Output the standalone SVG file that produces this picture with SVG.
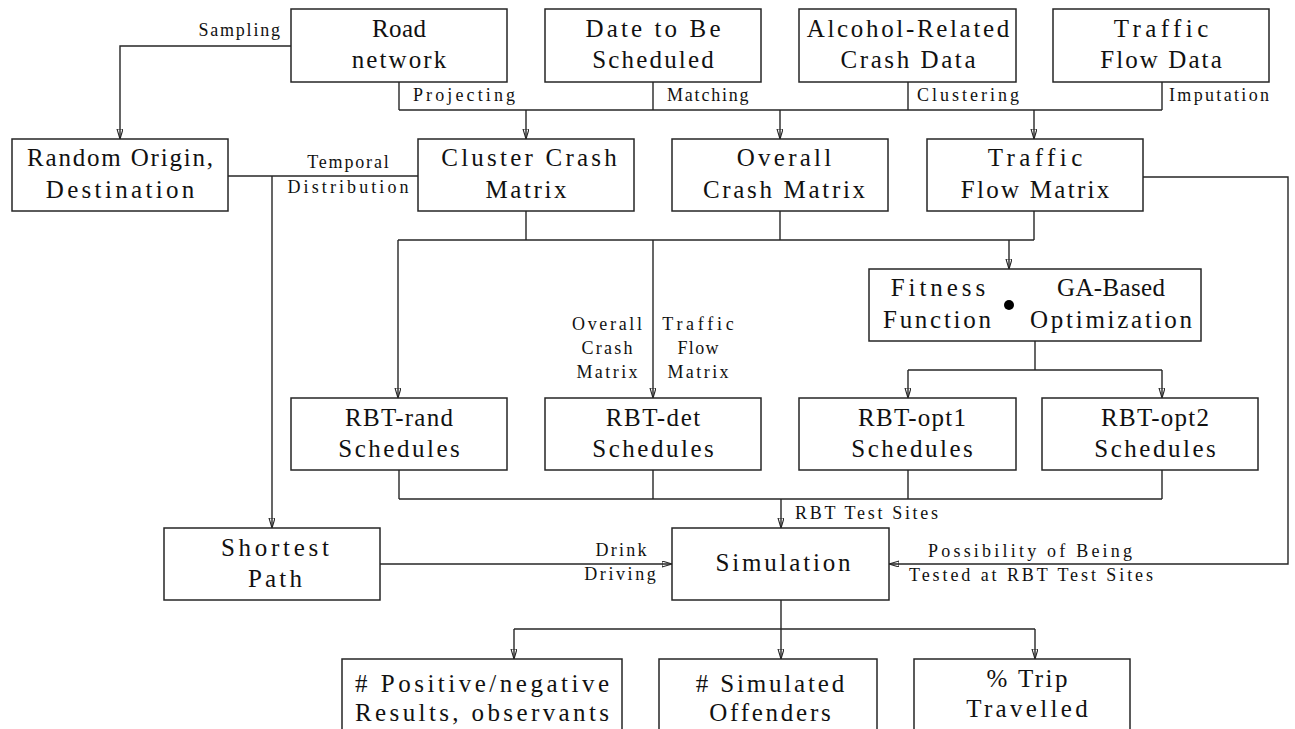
<svg xmlns="http://www.w3.org/2000/svg" width="1295" height="729" viewBox="0 0 1295 729">
  <style>
    .box { fill: #ffffff; stroke: #262626; stroke-width: 1.5; }
    .t { font-family: "Liberation Serif", "DejaVu Serif", serif; font-size: 25px; fill: #111; text-anchor: middle; }
    .s { font-family: "Liberation Serif", "DejaVu Serif", serif; font-size: 18px; fill: #111; }
    .m { text-anchor: middle; }
    .e { text-anchor: end; }
    .c { fill: none; stroke: #262626; stroke-width: 1.4; }
    .a { fill: none; stroke: #262626; stroke-width: 1.4; marker-end: url(#arr); }
  </style>
  <defs>
    <marker id="arr" markerUnits="userSpaceOnUse" markerWidth="12" markerHeight="8" refX="10" refY="3" orient="auto">
      <path d="M0,0 L10,3 L0,6 Z" fill="none" stroke="#262626" stroke-width="1.1"/>
    </marker>
  </defs>
  <rect width="1295" height="729" fill="#ffffff"/>

  <g id="connectors">
    <!-- Sampling -->
    <polyline class="a" points="291,46 120,46 120,139"/>
    <!-- top bus -->
    <line class="c" x1="399" y1="82" x2="399" y2="110"/>
    <line class="c" x1="653" y1="82" x2="653" y2="110"/>
    <line class="c" x1="908" y1="82" x2="908" y2="110"/>
    <line class="c" x1="1162" y1="82" x2="1162" y2="110"/>
    <line class="c" x1="399" y1="110" x2="1162" y2="110"/>
    <line class="a" x1="526" y1="110" x2="526" y2="139"/>
    <line class="a" x1="780" y1="110" x2="780" y2="139"/>
    <line class="a" x1="1034" y1="110" x2="1034" y2="139"/>
    <!-- temporal -->
    <line class="c" x1="228" y1="176" x2="418" y2="176"/>
    <line class="a" x1="272" y1="176" x2="272" y2="528"/>
    <!-- matrices bus -->
    <line class="c" x1="526" y1="211" x2="526" y2="240"/>
    <line class="c" x1="780" y1="211" x2="780" y2="240"/>
    <line class="c" x1="1034" y1="211" x2="1034" y2="240"/>
    <line class="c" x1="398" y1="240" x2="1034" y2="240"/>
    <line class="a" x1="398" y1="240" x2="398" y2="398"/>
    <line class="a" x1="653" y1="240" x2="653" y2="398"/>
    <line class="a" x1="1009" y1="240" x2="1009" y2="269"/>
    <!-- GA bus -->
    <line class="c" x1="1035" y1="341" x2="1035" y2="370"/>
    <line class="c" x1="908" y1="370" x2="1162" y2="370"/>
    <line class="a" x1="908" y1="370" x2="908" y2="398"/>
    <line class="a" x1="1162" y1="370" x2="1162" y2="398"/>
    <!-- schedules bus -->
    <line class="c" x1="399" y1="470" x2="399" y2="499"/>
    <line class="c" x1="653" y1="470" x2="653" y2="499"/>
    <line class="c" x1="908" y1="470" x2="908" y2="499"/>
    <line class="c" x1="1162" y1="470" x2="1162" y2="499"/>
    <line class="c" x1="399" y1="499" x2="1162" y2="499"/>
    <line class="a" x1="781" y1="499" x2="781" y2="528"/>
    <!-- traffic flow to simulation -->
    <polyline class="a" points="1143,177 1288,177 1288,564 889,564"/>
    <!-- shortest path to simulation -->
    <line class="a" x1="380" y1="564" x2="672" y2="564"/>
    <!-- outputs -->
    <line class="c" x1="781" y1="600" x2="781" y2="629"/>
    <line class="c" x1="514" y1="629" x2="1035" y2="629"/>
    <line class="a" x1="514" y1="629" x2="514" y2="659"/>
    <line class="a" x1="781" y1="629" x2="781" y2="659"/>
    <line class="a" x1="1035" y1="629" x2="1035" y2="659"/>
    <!-- labels -->
    <text class="s e" x="280" y="36" textLength="81.6" lengthAdjust="spacing">Sampling</text>
    <text class="s" x="413" y="101" textLength="102" lengthAdjust="spacing">Projecting</text>
    <text class="s" x="667" y="101" textLength="81.6" lengthAdjust="spacing">Matching</text>
    <text class="s" x="917" y="101" textLength="102" lengthAdjust="spacing">Clustering</text>
    <text class="s" x="1169" y="101" textLength="100" lengthAdjust="spacing">Imputation</text>
    <text class="s m" x="348" y="168" textLength="81.6" lengthAdjust="spacing">Temporal</text>
    <text class="s m" x="348" y="193" textLength="121" lengthAdjust="spacing">Distribution</text>
    <text class="s m" x="607" y="330" textLength="70" lengthAdjust="spacing">Overall</text>
    <text class="s m" x="607" y="354" textLength="51" lengthAdjust="spacing">Crash</text>
    <text class="s m" x="607" y="378" textLength="61.2" lengthAdjust="spacing">Matrix</text>
    <text class="s m" x="698" y="330" textLength="71.4" lengthAdjust="spacing">Traffic</text>
    <text class="s m" x="698" y="354" textLength="40.8" lengthAdjust="spacing">Flow</text>
    <text class="s m" x="698" y="378" textLength="61.2" lengthAdjust="spacing">Matrix</text>
    <text class="s" x="795" y="519" textLength="143" lengthAdjust="spacing">RBT Test Sites</text>
    <text class="s m" x="621" y="556" textLength="51" lengthAdjust="spacing">Drink</text>
    <text class="s m" x="620" y="580" textLength="71.4" lengthAdjust="spacing">Driving</text>
    <text class="s m" x="1030" y="557" textLength="204" lengthAdjust="spacing">Possibility of Being</text>
    <text class="s m" x="1031" y="581" textLength="244" lengthAdjust="spacing">Tested at RBT Test Sites</text>
  </g>

  <g id="road-network">
    <rect class="box" x="291" y="9" width="216" height="73"/>
    <text class="t" x="399" y="37" textLength="54" lengthAdjust="spacing">Road</text>
    <text class="t" x="399" y="68" textLength="94.5" lengthAdjust="spacing">network</text>
  </g>
  <g id="date-to-be-scheduled">
    <rect class="box" x="545" y="9" width="216" height="73"/>
    <text class="t" x="653" y="37" textLength="135" lengthAdjust="spacing">Date to Be</text>
    <text class="t" x="653" y="68" textLength="121.5" lengthAdjust="spacing">Scheduled</text>
  </g>
  <g id="alcohol-crash-data">
    <rect class="box" x="799" y="9" width="217" height="73"/>
    <text class="t" x="908" y="37" textLength="202.5" lengthAdjust="spacing">Alcohol-Related</text>
    <text class="t" x="908" y="68" textLength="135" lengthAdjust="spacing">Crash Data</text>
  </g>
  <g id="traffic-flow-data">
    <rect class="box" x="1053" y="9" width="216" height="73"/>
    <text class="t" x="1161" y="37" textLength="94.5" lengthAdjust="spacing">Traffic</text>
    <text class="t" x="1161" y="68" textLength="121.5" lengthAdjust="spacing">Flow Data</text>
  </g>

  <g id="random-origin">
    <rect class="box" x="12" y="139" width="216" height="72"/>
    <text class="t" x="120" y="166" textLength="186" lengthAdjust="spacing">Random Origin,</text>
    <text class="t" x="120" y="198" textLength="148.5" lengthAdjust="spacing">Destination</text>
  </g>
  <g id="cluster-crash-matrix">
    <rect class="box" x="418" y="139" width="216" height="72"/>
    <text class="t" x="529" y="166" textLength="175.5" lengthAdjust="spacing">Cluster Crash</text>
    <text class="t" x="526" y="198" textLength="81" lengthAdjust="spacing">Matrix</text>
  </g>
  <g id="overall-crash-matrix">
    <rect class="box" x="672" y="139" width="216" height="72"/>
    <text class="t" x="784" y="166" textLength="94.5" lengthAdjust="spacing">Overall</text>
    <text class="t" x="784" y="198" textLength="162" lengthAdjust="spacing">Crash Matrix</text>
  </g>
  <g id="traffic-flow-matrix">
    <rect class="box" x="927" y="139" width="216" height="72"/>
    <text class="t" x="1035" y="166" textLength="94.5" lengthAdjust="spacing">Traffic</text>
    <text class="t" x="1035" y="198" textLength="148.5" lengthAdjust="spacing">Flow Matrix</text>
  </g>

  <g id="fitness-ga">
    <rect class="box" x="869" y="269" width="332" height="72"/>
    <text class="t" x="938" y="296" textLength="94.5" lengthAdjust="spacing">Fitness</text>
    <text class="t" x="937" y="328" textLength="108" lengthAdjust="spacing">Function</text>
    <circle cx="1009" cy="305" r="5" fill="#000"/>
    <text class="t" x="1111" y="296" textLength="108" lengthAdjust="spacing">GA-Based</text>
    <text class="t" x="1111" y="328" textLength="162" lengthAdjust="spacing">Optimization</text>
  </g>

  <g id="rbt-rand">
    <rect class="box" x="291" y="398" width="216" height="72"/>
    <text class="t" x="399" y="426" textLength="108" lengthAdjust="spacing">RBT-rand</text>
    <text class="t" x="399" y="457" textLength="121.5" lengthAdjust="spacing">Schedules</text>
  </g>
  <g id="rbt-det">
    <rect class="box" x="545" y="398" width="216" height="72"/>
    <text class="t" x="653" y="426" textLength="94.5" lengthAdjust="spacing">RBT-det</text>
    <text class="t" x="653" y="457" textLength="121.5" lengthAdjust="spacing">Schedules</text>
  </g>
  <g id="rbt-opt1">
    <rect class="box" x="799" y="398" width="217" height="72"/>
    <text class="t" x="912" y="426" textLength="108" lengthAdjust="spacing">RBT-opt1</text>
    <text class="t" x="912" y="457" textLength="121.5" lengthAdjust="spacing">Schedules</text>
  </g>
  <g id="rbt-opt2">
    <rect class="box" x="1042" y="398" width="216" height="72"/>
    <text class="t" x="1155" y="426" textLength="108" lengthAdjust="spacing">RBT-opt2</text>
    <text class="t" x="1155" y="457" textLength="121.5" lengthAdjust="spacing">Schedules</text>
  </g>

  <g id="shortest-path">
    <rect class="box" x="164" y="528" width="216" height="72"/>
    <text class="t" x="275" y="556" textLength="108" lengthAdjust="spacing">Shortest</text>
    <text class="t" x="275" y="587" textLength="54" lengthAdjust="spacing">Path</text>
  </g>
  <g id="simulation">
    <rect class="box" x="672" y="528" width="217" height="72"/>
    <text class="t" x="783" y="571" textLength="135" lengthAdjust="spacing">Simulation</text>
  </g>

  <g id="positive-negative">
    <rect class="box" x="342" y="659" width="280" height="75"/>
    <text class="t" x="482" y="692" textLength="254" lengthAdjust="spacing"># Positive/negative</text>
    <text class="t" x="482" y="721" textLength="254" lengthAdjust="spacing">Results, observants</text>
  </g>
  <g id="simulated-offenders">
    <rect class="box" x="659" y="659" width="218" height="75"/>
    <text class="t" x="770" y="692" textLength="148.5" lengthAdjust="spacing"># Simulated</text>
    <text class="t" x="770" y="721" textLength="121.5" lengthAdjust="spacing">Offenders</text>
  </g>
  <g id="trip-travelled">
    <rect class="box" x="914" y="659" width="216" height="75"/>
    <text class="t" x="1027" y="687" textLength="81" lengthAdjust="spacing">% Trip</text>
    <text class="t" x="1027" y="717" textLength="121.5" lengthAdjust="spacing">Travelled</text>
  </g>
</svg>
